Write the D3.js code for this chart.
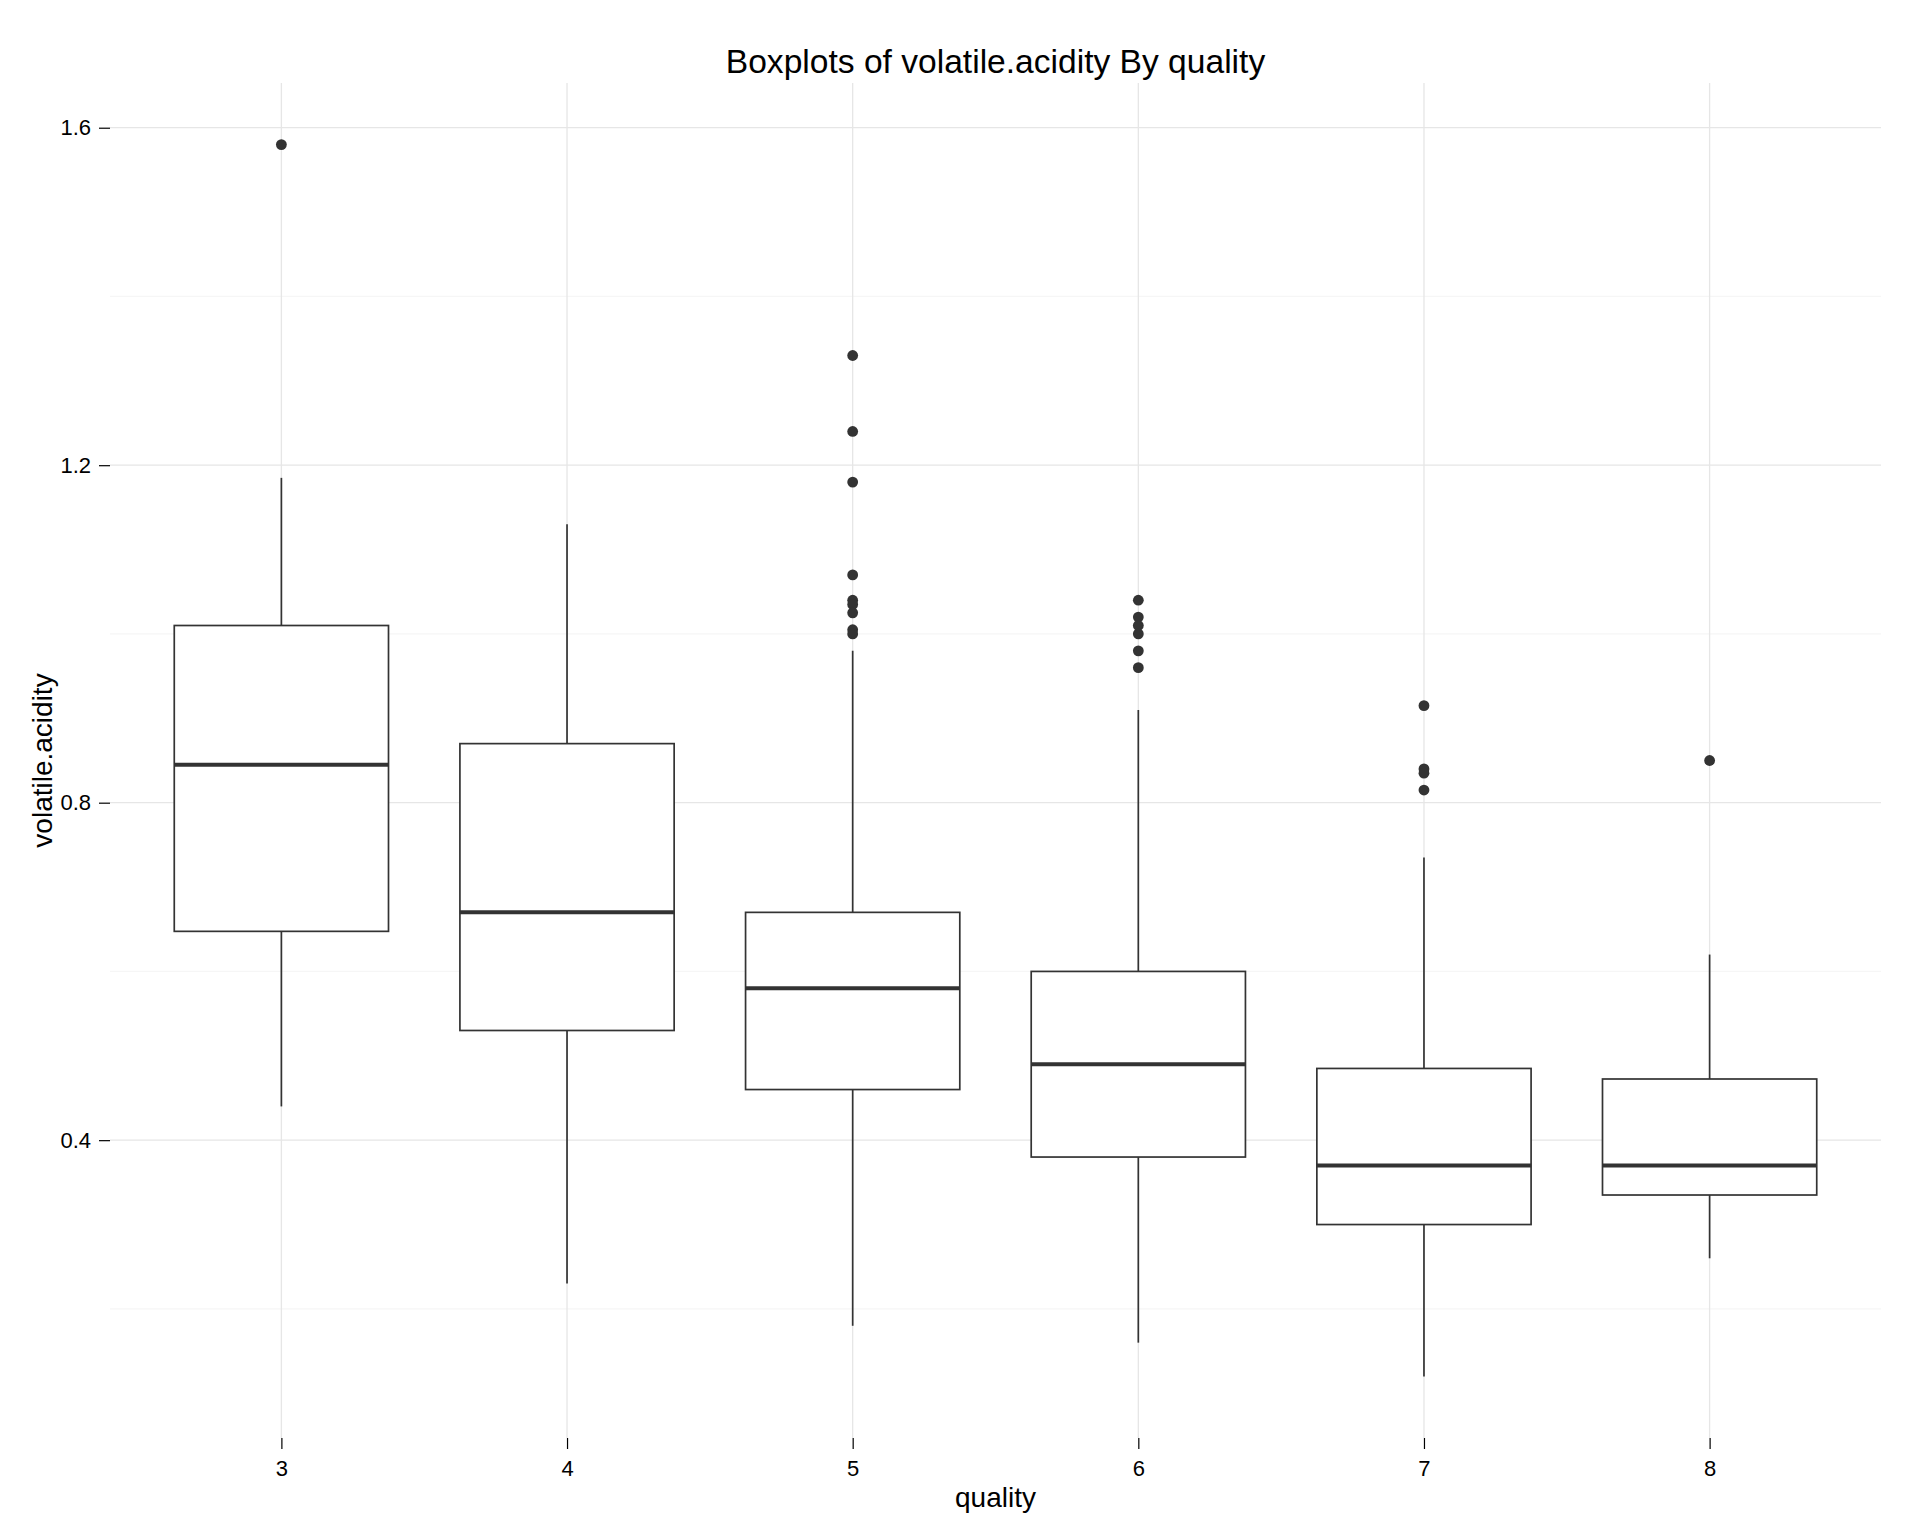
<!DOCTYPE html>
<html lang="en">

<head>
    <meta charset="UTF-8">
    <title>Boxplots of volatile.acidity By quality</title>
    <script src="https://cdn.jsdelivr.net/npm/d3@7"></script>
    <style>
        body {
            margin: 0;
            background: #fff;
        }

        svg text {
            font-family: "Liberation Sans", Arial, sans-serif;
            fill: #000;
        }

        .axis path {
            display: none;
        }

        .axis line {
            stroke: #000;
            stroke-width: 1.2;
        }

        .axis text {
            font-size: 22px;
        }
    </style>
</head>

<body>
</body>

<script>
    // data
    const qualities = ['3', '4', '5', '6', '7', '8']
    const whiskerLow = [0.44, 0.23, 0.18, 0.16, 0.12, 0.26]
    const q1 = [0.6475, 0.53, 0.46, 0.38, 0.30, 0.335]
    const median = [0.845, 0.67, 0.58, 0.49, 0.37, 0.37]
    const q3 = [1.01, 0.87, 0.67, 0.60, 0.485, 0.4725]
    const whiskerHigh = [1.185, 1.13, 0.98, 0.91, 0.735, 0.62]
    const outliers = [
        [1.58],
        [],
        [1.33, 1.24, 1.18, 1.07, 1.04, 1.035, 1.025, 1.005, 1.0],
        [1.04, 1.02, 1.01, 1.0, 0.98, 0.96],
        [0.915, 0.84, 0.835, 0.815],
        [0.85]
    ]
    const yTicks = [0.4, 0.8, 1.2, 1.6]
    const yMinor = [0.2, 0.6, 1.0, 1.4]

    const width = 1920
    const height = 1536
    const margin = { top: 83, right: 39, bottom: 98, left: 110 }
    const innerW = width - margin.left - margin.right
    const innerH = height - margin.top - margin.bottom

    const svg = d3.select('body').append('svg')
        .attr('width', width)
        .attr('height', height)

    const g = svg.append('g')
        .attr('transform', 'translate(' + margin.left + ',' + margin.top + ')')

    // same 5% expansion as ggplot
    const allVals = whiskerLow.concat(whiskerHigh, outliers.flat())
    const lo = d3.min(allVals)
    const hi = d3.max(allVals)
    const pad = (hi - lo) * 0.05

    const x = d3.scalePoint()
        .domain(qualities)
        .range([0, innerW])
        .padding(0.6)

    const y = d3.scaleLinear()
        .domain([lo - pad, hi + pad])
        .range([innerH, 0])

    const boxW = x.step() * 0.75

    // grid
    g.selectAll('.minor')
        .data(yMinor)
        .enter()
        .append('line')
        .attr('x1', 0)
        .attr('x2', innerW)
        .attr('y1', d => y(d))
        .attr('y2', d => y(d))
        .attr('stroke', '#f6f6f6')
        .attr('stroke-width', 1.3)

    g.selectAll('.major')
        .data(yTicks)
        .enter()
        .append('line')
        .attr('x1', 0)
        .attr('x2', innerW)
        .attr('y1', d => y(d))
        .attr('y2', d => y(d))
        .attr('stroke', '#e6e6e6')
        .attr('stroke-width', 1.3)

    g.selectAll('.vgrid')
        .data(qualities)
        .enter()
        .append('line')
        .attr('x1', d => x(d))
        .attr('x2', d => x(d))
        .attr('y1', 0)
        .attr('y2', innerH)
        .attr('stroke', '#e6e6e6')
        .attr('stroke-width', 1.3)

    // boxes
    const boxes = g.selectAll('.box')
        .data(qualities)
        .enter()
        .append('g')

    boxes.append('line')
        .attr('x1', d => x(d))
        .attr('x2', d => x(d))
        .attr('y1', (d, i) => y(q3[i]))
        .attr('y2', (d, i) => y(whiskerHigh[i]))
        .attr('stroke', '#333')
        .attr('stroke-width', 1.7)

    boxes.append('line')
        .attr('x1', d => x(d))
        .attr('x2', d => x(d))
        .attr('y1', (d, i) => y(q1[i]))
        .attr('y2', (d, i) => y(whiskerLow[i]))
        .attr('stroke', '#333')
        .attr('stroke-width', 1.7)

    boxes.append('rect')
        .attr('x', d => x(d) - boxW / 2)
        .attr('y', (d, i) => y(q3[i]))
        .attr('width', boxW)
        .attr('height', (d, i) => y(q1[i]) - y(q3[i]))
        .attr('fill', '#fff')
        .attr('stroke', '#333')
        .attr('stroke-width', 1.7)

    boxes.append('line')
        .attr('x1', d => x(d) - boxW / 2)
        .attr('x2', d => x(d) + boxW / 2)
        .attr('y1', (d, i) => y(median[i]))
        .attr('y2', (d, i) => y(median[i]))
        .attr('stroke', '#333')
        .attr('stroke-width', 4)

    boxes.selectAll('circle')
        .data((d, i) => outliers[i].map(v => ({ q: d, v: v })))
        .enter()
        .append('circle')
        .attr('cx', d => x(d.q))
        .attr('cy', d => y(d.v))
        .attr('r', 5.4)
        .attr('fill', '#333')

    // axes
    g.append('g')
        .attr('class', 'axis')
        .call(d3.axisLeft(y).tickValues(yTicks).tickFormat(d3.format('.1f')).tickSize(11).tickPadding(8))

    g.append('g')
        .attr('class', 'axis')
        .attr('transform', 'translate(0,' + innerH + ')')
        .call(d3.axisBottom(x).tickSize(11).tickPadding(11))

    // labels
    svg.append('text')
        .attr('x', margin.left + innerW / 2)
        .attr('y', 73)
        .attr('text-anchor', 'middle')
        .style('font-size', '33.6px')
        .text('Boxplots of volatile.acidity By quality')

    svg.append('text')
        .attr('x', margin.left + innerW / 2)
        .attr('y', 1507)
        .attr('text-anchor', 'middle')
        .style('font-size', '28px')
        .text('quality')

    svg.append('text')
        .attr('transform', 'translate(52,' + (margin.top + innerH / 2) + ') rotate(-90)')
        .attr('text-anchor', 'middle')
        .style('font-size', '28px')
        .text('volatile.acidity')
</script>

</html>
